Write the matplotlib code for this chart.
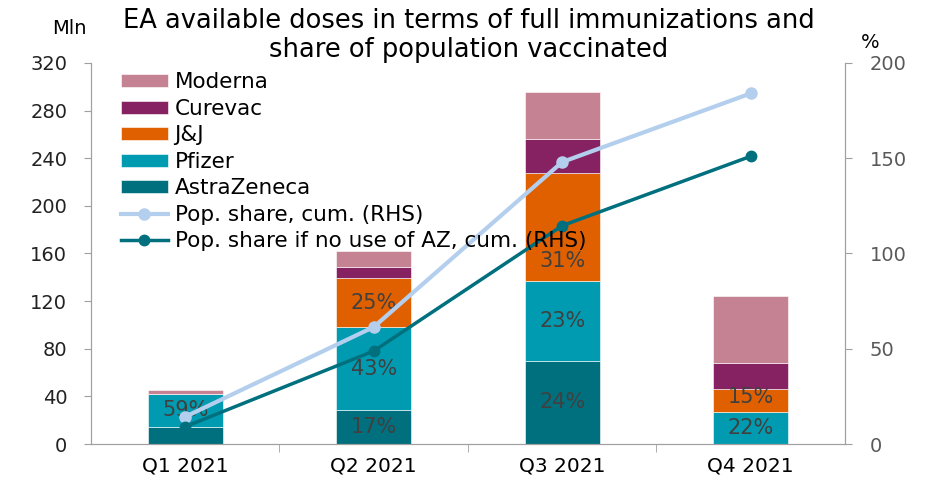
import matplotlib.pyplot as plt
import numpy as np

plt.rcParams['font.family'] = ['DejaVu Sans']

# Datos
trimestres = ['Q1 2021', 'Q2 2021', 'Q3 2021', 'Q4 2021']
astrazeneca = [14.5, 28.5, 70, 0]
pfizer = [27.5, 69.5, 66.7, 27]
jj = [0, 41, 90.8, 19]
curevac = [0, 10, 28.5, 22]
moderna = [3.5, 13, 40, 56]
pob_cum = [14.3, 61.4, 148, 184]
pob_sin_az = [9.1, 48.8, 114.6, 151]

# Etiquetas de porcentaje (serie, trimestre, texto, desplazamiento vertical)
etiquetas = [
    ('Pfizer', 0, '59%', 0),
    ('AstraZeneca', 1, '17%', 0), ('Pfizer', 1, '43%', 0), ('J&J', 1, '25%', 0),
    ('AstraZeneca', 2, '24%', 0), ('Pfizer', 2, '23%', 0), ('J&J', 2, '31%', -28),
    ('Pfizer', 3, '22%', 0), ('J&J', 3, '15%', 3),
]

series = [
    ('AstraZeneca', astrazeneca, '#00707E'),
    ('Pfizer', pfizer, '#009BB0'),
    ('J&J', jj, '#E06000'),
    ('Curevac', curevac, '#862262'),
    ('Moderna', moderna, '#C48293'),
]

fig = plt.figure(figsize=(9.32, 4.83), dpi=100)
ax = fig.add_axes([0.0976, 0.0807, 0.809, 0.789])
ax2 = ax.twinx()

x = np.arange(len(trimestres))
base = np.zeros(len(trimestres))
barras = {}
for nombre, vals, color in series:
    vals = np.array(vals, dtype=float)
    barras[nombre] = ax.bar(x, vals, 0.4, bottom=base, color=color, label=nombre,
                            edgecolor='white', linewidth=0.4)
    barras[nombre + '_base'] = base.copy()
    barras[nombre + '_vals'] = vals
    base = base + vals

for nombre, i, texto, dy in etiquetas:
    y = barras[nombre + '_base'][i] + barras[nombre + '_vals'][i] / 2 + dy
    ax.text(x[i], y, texto, ha='center', va='center', fontsize=15, color='#404040')

l1, = ax2.plot(x, pob_cum, color='#B4CFEE', lw=3, marker='o', ms=8,
               label='Pop. share, cum. (RHS)')
l2, = ax2.plot(x, pob_sin_az, color='#00707E', lw=2.5, marker='o', ms=7.5,
               label='Pop. share if no use of AZ, cum. (RHS)')

ax.set_xlim(-0.5, 3.5)
ax.set_ylim(0, 320)
ax.set_yticks(range(0, 321, 40))
ax2.set_ylim(0, 200)
ax2.set_yticks(range(0, 201, 50))

ax.set_xticks(x)
ax.set_xticklabels(trimestres, fontsize=14.5)
ax.set_xticks([0.5, 1.5, 2.5], minor=True)
ax.tick_params(axis='x', which='major', length=0, pad=9)
ax.tick_params(axis='x', which='minor', length=6, color='#A0A0A0', direction='out')
ax.tick_params(axis='y', labelsize=14, color='#A0A0A0', length=5, pad=12, labelcolor='#222222')
ax2.tick_params(axis='y', labelsize=14, color='#A0A0A0', length=5, pad=13, labelcolor='#595959')

for a in (ax, ax2):
    a.spines['top'].set_visible(False)
    for lado in ('left', 'right', 'bottom'):
        a.spines[lado].set_color('#A0A0A0')

fig.text(0.056, 0.942, 'Mln', fontsize=14, ha='left', va='center')
fig.text(0.924, 0.911, '%', fontsize=14, ha='left', va='center')
fig.text(0.503, 0.927, 'EA available doses in terms of full immunizations and\nshare of population vaccinated',
         ha='center', va='center', fontsize=18.5, linespacing=1.15)

handles = [barras['Moderna'], barras['Curevac'], barras['J&J'], barras['Pfizer'],
           barras['AstraZeneca'], l1, l2]
labels = ['Moderna', 'Curevac', 'J&J', 'Pfizer', 'AstraZeneca',
          'Pop. share, cum. (RHS)', 'Pop. share if no use of AZ, cum. (RHS)']
leg = ax2.legend(handles, labels, loc='upper left', bbox_to_anchor=(0.028, 0.998),
                 frameon=False, fontsize=15.5, handlelength=2.2, handleheight=0.55,
                 labelspacing=0.3, handletextpad=0.3, borderaxespad=0.0)

fig.savefig('out.png', dpi=100)
